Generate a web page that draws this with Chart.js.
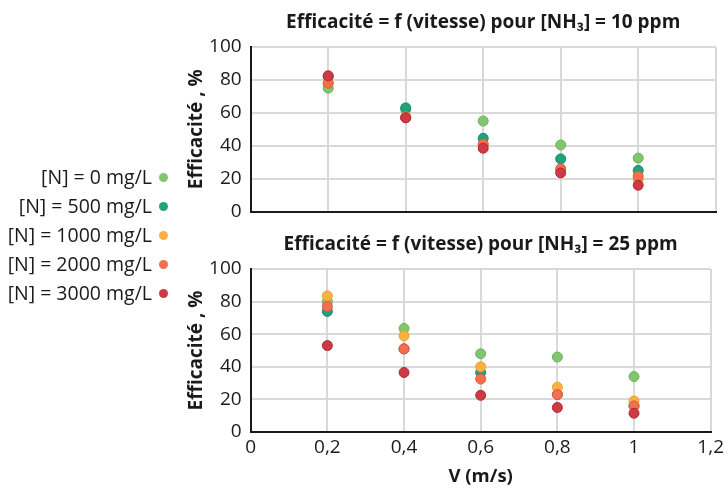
<!DOCTYPE html>
<html><head><meta charset="utf-8">
<script src="https://cdn.jsdelivr.net/npm/chart.js@4/dist/chart.umd.min.js"></script>
<style>
body{margin:0;width:728px;height:488px;background:#fff;position:relative;overflow:hidden;font-family:"Open Sans",sans-serif;}
canvas{position:absolute;left:0;}
#c1{top:0;}
#c2{top:220px;}
.li{position:absolute;right:576px;height:24px;line-height:24px;font-size:19.5px;color:#1a1a1a;white-space:nowrap;}
.dot{position:absolute;width:9px;height:9px;border-radius:50%;}
</style>
</head><body>
<canvas id="c2" width="728" height="268"></canvas>
<canvas id="c1" width="728" height="232"></canvas>
<div id="legend"></div>
<script>
const xValues = [0.2, 0.4, 0.6, 0.8, 1.0];
const seriesNames = ["[N] = 0 mg/L", "[N] = 500 mg/L", "[N] = 1000 mg/L", "[N] = 2000 mg/L", "[N] = 3000 mg/L"];
const seriesColors = ["#82c56f", "#1fa37a", "#fbb040", "#f26f50", "#cc3a44"];
const seriesBorders = ["#6cb25a", "#138a63", "#eea02c", "#e05a3c", "#b02a35"];

// [NH3] = 10 ppm
const top_N0    = [75, 62, 55, 40.5, 32.5];
const top_N500  = [82, 63, 44.5, 32, 25];
const top_N1000 = [78, 57.5, 40.5, 25, 19.5];
const top_N2000 = [78, 57, 41, 26, 21.5];
const top_N3000 = [82.5, 57, 38.5, 23.5, 16];

// [NH3] = 25 ppm
const bot_N0    = [80, 63.5, 48, 46, 34];
const bot_N500  = [74, 51, 36.5, 23, 16];
const bot_N1000 = [83.5, 59, 40, 27.5, 19];
const bot_N2000 = [77, 51, 32.5, 23, 16];
const bot_N3000 = [53, 36.5, 22.5, 15, 11.5];

const yTicksMax = 100, yStep = 20, xMax = 1.2, xStep = 0.2;

const FONT = '"Open Sans", sans-serif';
const TXT = '#1a1a1a';

function fmt(v){ return (Math.round(v*10)/10).toString().replace('.', ','); }

function makeChart(id, title, data, showX, titlePad){
  return new Chart(document.getElementById(id), {
    type: 'scatter',
    data: {
      datasets: seriesNames.map((n, i) => ({
        label: n,
        data: xValues.map((x, j) => ({x: x, y: data[i][j]})),
        backgroundColor: seriesColors[i],
        borderColor: seriesBorders[i],
        borderWidth: 1,
        pointRadius: 5,
        pointHoverRadius: 5,
        order: 4 - i
      }))
    },
    options: {
      responsive: false,
      animation: false,
      events: [],
      layout: {padding: {left: 180, right: 12.3, top: 0, bottom: 0}},
      plugins: {
        legend: {display: false},
        tooltip: {enabled: false},
        title: {
          display: true, text: title, fullSize: false, color: TXT,
          font: {family: FONT, size: 19, weight: 'bold'},
          padding: titlePad
        }
      },
      scales: {
        x: {
          type: 'linear', min: 0, max: xMax,
          ticks: {stepSize: xStep, display: showX, callback: fmt, color: TXT, font: {family: FONT, size: 19}, padding: 4},
          grid: {color: '#d9d9d9', lineWidth: 2, drawTicks: false},
          border: {color: TXT, width: 2},
          title: {display: showX, text: 'V (m/s)', color: TXT, font: {family: FONT, size: 18.5, weight: 'bold'}, padding: {top: 0, bottom: 0}},
          afterFit: s => { s.height = showX ? 56 : 0; }
        },
        y: {
          min: 0, max: yTicksMax,
          ticks: {stepSize: yStep, color: TXT, font: {family: FONT, size: 19}, padding: 9},
          grid: {color: '#d9d9d9', lineWidth: 2, drawTicks: false},
          border: {color: TXT, width: 2},
          title: {display: true, text: 'Efficacité , %', color: TXT, font: {family: FONT, size: 19, weight: 'bold'}, padding: {top: 5.6, bottom: 0}},
          afterFit: s => { s.width = 70.7; }
        }
      }
    }
  });
}

makeChart('c1', 'Efficacité = f (vitesse) pour [NH₃] = 10 ppm',
  [top_N0, top_N500, top_N1000, top_N2000, top_N3000], false, {top: 11.6, bottom: 12.6});
makeChart('c2', 'Efficacité = f (vitesse) pour [NH₃] = 25 ppm',
  [bot_N0, bot_N500, bot_N1000, bot_N2000, bot_N3000], true, {top: 13.6, bottom: 12.6});

const leg = document.getElementById('legend');
seriesNames.forEach((n, i) => {
  const cy = 177 + i * 29;
  const t = document.createElement('div');
  t.className = 'li'; t.textContent = n; t.style.top = (cy - 12) + 'px';
  leg.appendChild(t);
  const d = document.createElement('div');
  d.className = 'dot'; d.style.background = seriesColors[i];
  d.style.left = (163 - 4.5) + 'px'; d.style.top = (cy - 4.5) + 'px';
  leg.appendChild(d);
});
</script>
</body></html>
